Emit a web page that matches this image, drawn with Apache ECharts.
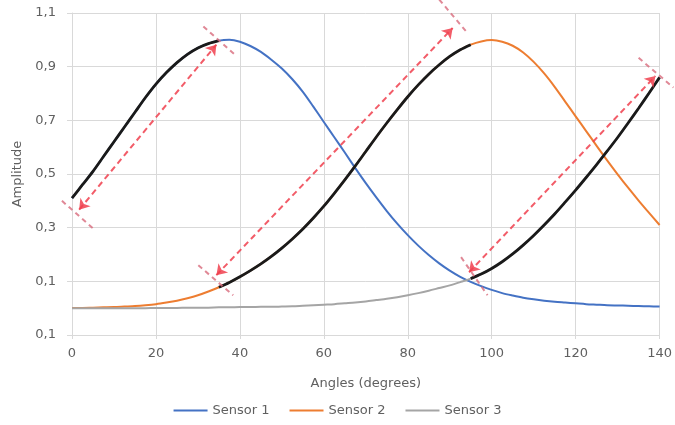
<!DOCTYPE html>
<html>
<head>
<meta charset="utf-8">
<script src="https://cdn.jsdelivr.net/npm/echarts@6/dist/echarts.min.js"></script>
<style>html,body{margin:0;padding:0;background:#fff;}#c{width:675px;height:425px;}</style>
</head>
<body>
<div id="c"></div>
<script>
var angles = [0,2.5,5,7.5,10,12.5,15,17.5,20,22.5,25,27.5,30,32.5,35,37.5,40,42.5,45,47.5,50,52.5,55,57.5,60,62.5,65,67.5,70,72.5,75,77.5,80,82.5,85,87.5,90,92.5,95,97.5,100,102.5,105,107.5,110,112.5,115,117.5,120,122.5,125,127.5,130,132.5,135,137.5,140];
var sensor1 = [0.41,0.46,0.51,0.565,0.62,0.675,0.73,0.785,0.835,0.878,0.915,0.946,0.97,0.986,0.997,1.0,0.993,0.977,0.955,0.926,0.893,0.853,0.806,0.751,0.694,0.637,0.58,0.522,0.466,0.413,0.362,0.315,0.272,0.233,0.198,0.167,0.14,0.117,0.098,0.082,0.068,0.056,0.047,0.039,0.033,0.028,0.024,0.021,0.018,0.015,0.013,0.011,0.01,0.009,0.008,0.007,0.006];
var sensor2 = [0.001,0.001,0.002,0.003,0.004,0.006,0.008,0.011,0.015,0.021,0.028,0.037,0.048,0.062,0.078,0.096,0.117,0.14,0.165,0.193,0.224,0.258,0.295,0.336,0.38,0.428,0.478,0.53,0.584,0.638,0.69,0.74,0.788,0.832,0.872,0.907,0.938,0.963,0.982,0.994,0.999,0.993,0.978,0.953,0.918,0.875,0.825,0.77,0.715,0.66,0.605,0.551,0.499,0.449,0.401,0.355,0.31];
var sensor3 = [0,0,0,0,0,0,0,0,0.001,0.001,0.001,0.002,0.002,0.002,0.003,0.003,0.004,0.004,0.005,0.005,0.006,0.007,0.009,0.011,0.013,0.015,0.018,0.021,0.025,0.03,0.035,0.041,0.048,0.056,0.065,0.075,0.085,0.097,0.11,0.127,0.148,0.173,0.202,0.235,0.271,0.31,0.351,0.395,0.44,0.487,0.535,0.585,0.636,0.69,0.745,0.802,0.86];
var seriesNames = ['Sensor 1','Sensor 2','Sensor 3'];
var xTicks = [0,20,40,60,80,100,120,140];
var yTickLabels = ['0,1','0,1','0,3','0,5','0,7','0,9','1,1'];
// envelope segments (index ranges into angles) following each sensor
var envStart = [0,14,38];
var envEnd = [14,38,56];
// annotation arrows in data space [x1,y1,x2,y2]
var arrows = [[1.7,0.367,34.4,0.982],[34.4,0.123,90.7,1.044],[94.6,0.134,139.0,0.865]];
var arrowTicks = [[-2.4,0.40,5.1,0.296],[31.3,1.05,39.2,0.939],[30.1,0.16,38.4,0.048],[87.5,1.15,94.2,1.026],[92.7,0.19,99.0,0.048],[135.0,0.933,143.3,0.822]];

var sensors = [sensor1, sensor2, sensor3];
var colors = ['#4472C4','#ED7D31','#A5A5A5'];
function pairs(arr, a, b){var out=[];for(var i=0;i<angles.length;i++){if(a===undefined||(i>=a&&i<=b))out.push([angles[i],arr[i]]);}return out;}
var font = '"DejaVu Sans", sans-serif';
var txt = '#606060';
var series = [];
for (var s=0;s<3;s++){
  series.push({name:seriesNames[s],type:'line',data:pairs(sensors[s]),smooth:0.3,symbol:'none',
    lineStyle:{color:colors[s],width:2},itemStyle:{color:colors[s]},z:2});
}
for (var s=0;s<3;s++){
  series.push({name:'env'+s,type:'line',data:pairs(sensors[s],envStart[s],envEnd[s]),smooth:0.3,symbol:'none',
    lineStyle:{color:'#1a1a1a',width:2.8},itemStyle:{color:'#1a1a1a'},z:3});
}
series.push({name:'ticks',type:'lines',coordinateSystem:'cartesian2d',clip:false,z:4,silent:true,
  symbol:['none','none'],
  lineStyle:{color:'#d86a7c',width:2,type:[5,4],opacity:0.8},
  data:arrowTicks.map(function(a){return {coords:[[a[0],a[1]],[a[2],a[3]]]};})});
series.push({name:'arrows',type:'lines',coordinateSystem:'cartesian2d',clip:false,z:5,silent:true,
  symbol:['arrow','arrow'],symbolSize:10,
  lineStyle:{color:'#f0404e',width:2,type:[6,4],opacity:0.85},
  data:arrows.map(function(a){return {coords:[[a[0],a[1]],[a[2],a[3]]]};})});

var chart = echarts.init(document.getElementById('c'),null,{renderer:'canvas'});
chart.setOption({
  animation:false,
  backgroundColor:'#fff',
  grid:{left:72,right:14,top:13,bottom:90,containLabel:false},
  legend:{data:seriesNames,bottom:3,left:'center',itemWidth:34,itemHeight:2,itemGap:20,
    icon:'rect',
    textStyle:{color:txt,fontSize:13,fontFamily:font}},
  xAxis:{type:'value',min:xTicks[0],max:xTicks[xTicks.length-1],interval:20,
    name:'Angles (degrees)',nameLocation:'middle',nameGap:42,
    nameTextStyle:{color:txt,fontSize:13,fontFamily:font},
    axisLine:{show:true,onZero:false,lineStyle:{color:'#d9d9d9'}},
    axisTick:{show:true,length:4,lineStyle:{color:'#d9d9d9'}},
    axisLabel:{color:txt,fontSize:13,fontFamily:font,margin:12},
    splitLine:{show:true,lineStyle:{color:'#d9d9d9',width:1}}},
  yAxis:{type:'value',min:-0.1,max:1.1,interval:0.2,
    name:'Amplitude',nameLocation:'middle',nameGap:47,nameRotate:90,
    nameTextStyle:{color:txt,fontSize:13,fontFamily:font},
    axisLine:{show:true,lineStyle:{color:'#d9d9d9'}},
    axisTick:{show:true,length:5,lineStyle:{color:'#d9d9d9'}},
    axisLabel:{color:txt,fontSize:13,fontFamily:font,margin:16,
      formatter:function(v){var i=Math.round((v+0.1)/0.2);return yTickLabels[i];}},
    splitLine:{show:true,lineStyle:{color:'#d9d9d9',width:1}}},
  series:series
});
</script>
</body>
</html>
